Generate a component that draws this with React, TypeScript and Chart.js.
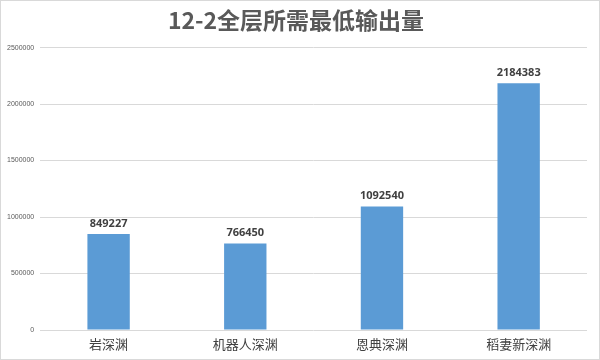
import React, { useEffect, useRef } from "react";
import { Chart, registerables } from "chart.js";

Chart.register(...registerables);

const titleText = "12-2全层所需最低输出量";
const categories = ["岩深渊", "机器人深渊", "恩典深渊", "稻妻新深渊"];
const values = [849227, 766450, 1092540, 2184383];
const yMax = 2500000;
const yStep = 500000;

const valueLabels = {
  id: "valueLabels",
  afterDatasetsDraw(chart: any) {
    const ctx = chart.ctx;
    const meta = chart.getDatasetMeta(0);
    ctx.save();
    ctx.font = "bold 11px 'Open Sans', 'Noto Sans', sans-serif";
    ctx.fillStyle = "#404040";
    ctx.textAlign = "center";
    ctx.textBaseline = "bottom";
    meta.data.forEach((bar: any, i: number) => {
      ctx.fillText(String(values[i]), bar.x, bar.y - 5);
    });
    ctx.restore();
  },
};

export default function App() {
  const ref = useRef<HTMLCanvasElement | null>(null);
  useEffect(() => {
    document.body.style.margin = "0";
    const chart = new Chart(ref.current!, {
      type: "bar",
      data: {
        labels: categories,
        datasets: [
          {
            data: values,
            backgroundColor: "#5B9BD5",
            barPercentage: 0.31,
            categoryPercentage: 1,
          },
        ],
      },
      options: {
        animation: false,
        responsive: false,
        maintainAspectRatio: false,
        layout: { padding: { left: 4, right: 12, top: 0, bottom: 8 } },
        plugins: {
          legend: { display: false },
          tooltip: { enabled: false },
          title: {
            display: true,
            text: titleText,
            color: "#595959",
            font: { size: 23, weight: "bold", family: "'Noto Sans CJK SC', sans-serif" },
            padding: { top: 5, bottom: 14 },
          },
        },
        scales: {
          x: {
            grid: { display: false },
            border: { display: false },
            ticks: {
              color: "#404040",
              font: { size: 13, lineHeight: 1, family: "'Noto Sans CJK SC', serif" },
              padding: 0,
            },
          },
          y: {
            min: 0,
            max: yMax,
            grid: { color: "#d9d9d9", drawTicks: true, tickLength: 4, tickColor: "transparent" },
            border: { display: false },
            ticks: {
              stepSize: yStep,
              color: "#595959",
              font: { size: 7, family: "'Liberation Sans', sans-serif" },
              padding: 2,
              callback: (v: any) => String(v),
            },
          },
        },
      },
      plugins: [valueLabels],
    });
    return () => chart.destroy();
  }, []);
  return (
    <div
      style={{
        position: "relative",
        width: 600,
        height: 360,
        boxSizing: "border-box",
        border: "1px solid #d9d9d9",
        background: "#fff",
      }}
    >
      <canvas ref={ref} width={598} height={358} style={{ display: "block" }} />
    </div>
  );
}
